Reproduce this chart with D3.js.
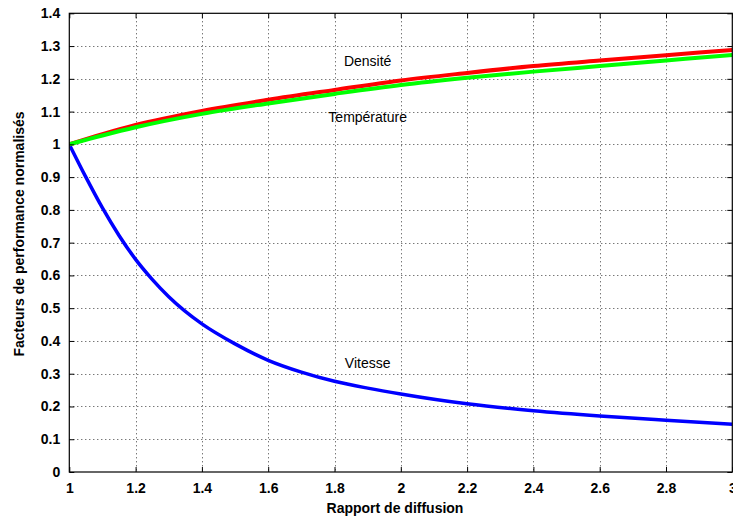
<!DOCTYPE html>
<html><head><meta charset="utf-8">
<script src="https://cdn.jsdelivr.net/npm/d3@7"></script>
<style>body{margin:0;background:#fff}svg{display:block}</style>
</head><body>
<script>
const xTicks = [1, 1.2, 1.4, 1.6, 1.8, 2, 2.2, 2.4, 2.6, 2.8, 3];
const yTicks = [0, 0.1, 0.2, 0.3, 0.4, 0.5, 0.6, 0.7, 0.8, 0.9, 1, 1.1, 1.2, 1.3, 1.4];
const xTickLabels = ["1", "1.2", "1.4", "1.6", "1.8", "2", "2.2", "2.4", "2.6", "2.8", "3"];
const yTickLabels = ["0", "0.1", "0.2", "0.3", "0.4", "0.5", "0.6", "0.7", "0.8", "0.9", "1", "1.1", "1.2", "1.3", "1.4"];

const densiteX = [1, 1.1, 1.2, 1.4, 1.6, 1.8, 2, 2.2, 2.4, 2.6, 2.8, 3];
const densiteY = [1, 1.031, 1.059, 1.102, 1.136, 1.166, 1.195, 1.218, 1.239, 1.256, 1.272, 1.288];
const tempX = [1, 1.1, 1.2, 1.4, 1.6, 1.8, 2, 2.2, 2.4, 2.6, 2.8, 3];
const tempY = [1, 1.027, 1.052, 1.093, 1.125, 1.154, 1.181, 1.203, 1.222, 1.239, 1.256, 1.273];
const vitX = [1, 1.05, 1.1, 1.15, 1.2, 1.25, 1.3, 1.4, 1.5, 1.6, 1.7, 1.8, 1.9, 2, 2.2, 2.4, 2.6, 2.8, 3];
const vitY = [1, 0.9, 0.806, 0.722, 0.649, 0.588, 0.535, 0.452, 0.391, 0.341, 0.305, 0.277, 0.256, 0.238, 0.208, 0.187, 0.171, 0.158, 0.146];

const W = 733, H = 519;
const L = 69.3, R = 732.3, T = 13.3, B = 472;
const svg = d3.select("body").append("svg").attr("width", W).attr("height", H);
svg.append("rect").attr("width", W).attr("height", H).attr("fill", "#fff");

const x = d3.scaleLinear().domain([1, 3]).range([L, R]);
const y = d3.scaleLinear().domain([0, 1.4]).range([B, T]);
const font = "'Liberation Sans', Arial, sans-serif";

// grid
const grid = svg.append("g").attr("stroke", "#000").attr("stroke-width", 1).attr("stroke-dasharray", "1,3").attr("opacity", 0.75);
xTicks.slice(1, -1).forEach(t => grid.append("line").attr("x1", Math.round(x(t)) + 0.5).attr("x2", Math.round(x(t)) + 0.5).attr("y1", T).attr("y2", B));
yTicks.slice(1, -1).forEach(t => grid.append("line").attr("y1", Math.round(y(t)) + 0.5).attr("y2", Math.round(y(t)) + 0.5).attr("x1", L).attr("x2", R));

// curves
svg.append("clipPath").attr("id", "c").append("rect").attr("x", L).attr("y", T).attr("width", R - L).attr("height", B - T);
const line = d3.line().x(d => x(d[0])).y(d => y(d[1])).curve(d3.curveMonotoneX);
const series = [
  {xs: vitX, ys: vitY, color: "#0000ff", w: 3.5},
  {xs: densiteX, ys: densiteY, color: "#ff0000", w: 4},
  {xs: tempX, ys: tempY, color: "#00ff00", w: 4}
];
const cg = svg.append("g").attr("clip-path", "url(#c)");
series.forEach(s => {
  cg.append("path").datum(s.xs.map((v, i) => [v, s.ys[i]]))
    .attr("d", line).attr("fill", "none").attr("stroke", s.color).attr("stroke-width", s.w)
    .attr("stroke-linejoin", "round");
});

// axes with inner ticks on all four sides
const tl = 5;
const axL = svg.append("g").attr("transform", `translate(${L},0)`)
  .call(d3.axisLeft(y).tickValues(yTicks).tickSize(-tl).tickPadding(tl + 4).tickFormat((d, i) => yTickLabels[i]));
const axB = svg.append("g").attr("transform", `translate(0,${B})`)
  .call(d3.axisBottom(x).tickValues(xTicks).tickSize(-tl).tickPadding(tl + 6).tickFormat((d, i) => xTickLabels[i]));
const axR = svg.append("g").attr("transform", `translate(${R},0)`)
  .call(d3.axisRight(y).tickValues(yTicks).tickSize(-tl).tickFormat(""));
const axT = svg.append("g").attr("transform", `translate(0,${T})`)
  .call(d3.axisTop(x).tickValues(xTicks).tickSize(-tl).tickFormat(""));
[axL, axB, axR, axT].forEach(a => {
  a.select(".domain").remove();
  a.selectAll("line").attr("stroke", "#000");
  a.selectAll("text").attr("font-family", font).attr("font-size", 14).attr("font-weight", "bold").attr("fill", "#000");
});
svg.append("rect").attr("x", L).attr("y", T).attr("width", R - L).attr("height", B - T)
  .attr("fill", "none").attr("stroke", "#000").attr("stroke-width", 1.2);

// axis titles
svg.append("text").attr("x", 395).attr("y", 513).attr("text-anchor", "middle")
  .attr("font-family", font).attr("font-size", 14).attr("font-weight", "bold").text("Rapport de diffusion");
svg.append("text").attr("transform", `translate(24,234) rotate(-90)`).attr("text-anchor", "middle")
  .attr("font-family", font).attr("font-size", 14).attr("font-weight", "bold").text("Facteurs de performance normalisés");

// curve labels
const labels = [
  {t: "Densité", x: 1.9, y: 1.24},
  {t: "Température", x: 1.9, y: 1.067},
  {t: "Vitesse", x: 1.9, y: 0.316}
];
labels.forEach(l => svg.append("text").attr("x", x(l.x)).attr("y", y(l.y)).attr("text-anchor", "middle")
  .attr("font-family", font).attr("font-size", 14).attr("fill", "#000").text(l.t));
</script>
</body></html>
